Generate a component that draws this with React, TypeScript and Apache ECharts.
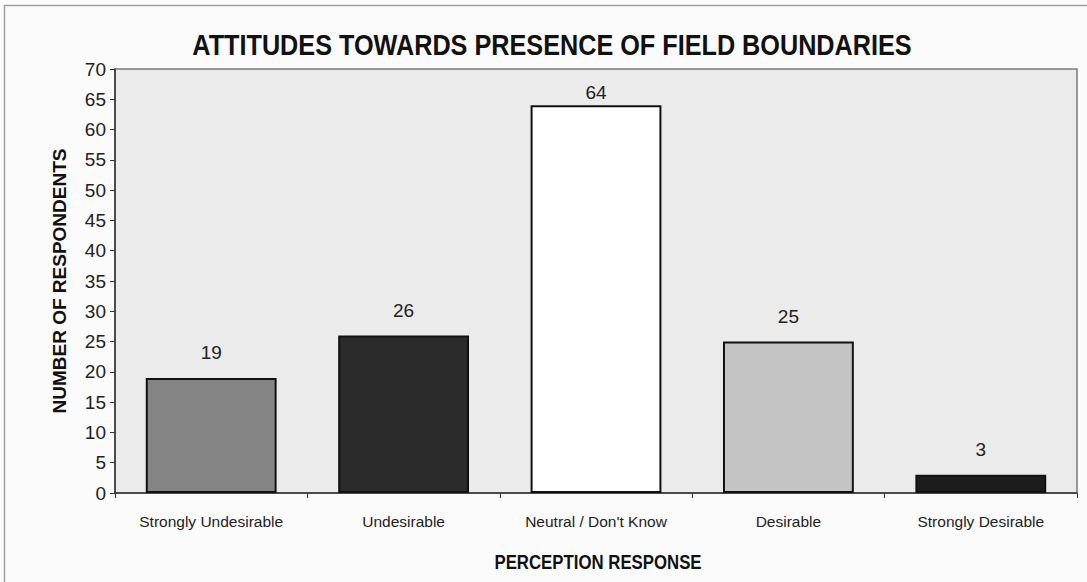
import React, { useEffect, useRef } from "react";
import * as echarts from "echarts";

const categories = [
  "Strongly Undesirable",
  "Undesirable",
  "Neutral / Don't Know",
  "Desirable",
  "Strongly Desirable",
];
const respondents = [19, 26, 64, 25, 3];
const barColors = ["#858585", "#2b2b2b", "#ffffff", "#c4c4c4", "#1c1c1c"];
// the tallest bar's label sits tighter to stay inside the plot
const labelGaps = [16, 16, 3, 16, 16];

const sans = "'Liberation Sans', Arial, sans-serif";

export default function App() {
  const ref = useRef<HTMLDivElement>(null);
  useEffect(() => {
    if (!ref.current) return;
    const chart = echarts.init(ref.current, undefined, { renderer: "svg" });
    chart.setOption({
      animation: false,
      backgroundColor: "#fbfbfb",
      graphic: [
        {
          type: "rect",
          shape: { x: 4.5, y: 5.5, width: 1200, height: 700 },
          style: { fill: "none", stroke: "#a0a0a0", lineWidth: 1.5 },
          silent: true,
          z: -1,
        },
        // condensed headings
        {
          type: "text",
          x: 552,
          y: 45,
          scaleX: 0.87,
          style: {
            text: "ATTITUDES TOWARDS PRESENCE OF FIELD BOUNDARIES",
            fontFamily: sans,
            fontWeight: "bold",
            fontSize: 29,
            fill: "#111",
            align: "center",
            verticalAlign: "middle",
          },
        },
        {
          type: "text",
          x: 598,
          y: 562,
          scaleX: 0.84,
          style: {
            text: "PERCEPTION RESPONSE",
            fontFamily: sans,
            fontWeight: "bold",
            fontSize: 20,
            fill: "#111",
            align: "center",
            verticalAlign: "middle",
          },
        },
      ],
      grid: {
        left: 115,
        right: 10,
        top: 69,
        bottom: 89,
        show: true,
        backgroundColor: "#ebebeb",
        borderColor: "#7a7a7a",
        borderWidth: 1.5,
      },
      xAxis: {
        type: "category",
        data: categories,
        axisLine: { lineStyle: { color: "#333", width: 1.5 } },
        axisTick: { show: true, alignWithLabel: false, length: 5, lineStyle: { color: "#333" } },
        axisLabel: { interval: 0, fontFamily: sans, fontSize: 15.5, color: "#222", margin: 20 },
      },
      yAxis: {
        type: "value",
        min: 0,
        max: 70,
        interval: 5,
        name: "NUMBER OF RESPONDENTS",
        nameLocation: "middle",
        nameGap: 46,
        nameTextStyle: { fontFamily: sans, fontWeight: "bold", fontSize: 19, color: "#111" },
        axisLine: { show: true, lineStyle: { color: "#333", width: 1.5 } },
        axisTick: { show: true, length: 5, lineStyle: { color: "#333" } },
        axisLabel: { fontFamily: sans, fontSize: 19, color: "#222", margin: 9 },
        splitLine: { show: false },
      },
      series: [
        {
          type: "bar",
          barWidth: "68%",
          data: respondents.map((v, i) => ({
            value: v,
            itemStyle: { color: barColors[i], borderColor: "#111", borderWidth: 2 },
            label: { distance: labelGaps[i] },
          })),
          label: {
            show: true,
            position: "top",
            fontFamily: sans,
            fontSize: 19,
            color: "#222",
          },
        },
      ],
    });
    return () => chart.dispose();
  }, []);
  return (
    <div
      ref={ref}
      style={{ position: "absolute", left: 0, top: 0, width: 1087, height: 582 }}
    />
  );
}
